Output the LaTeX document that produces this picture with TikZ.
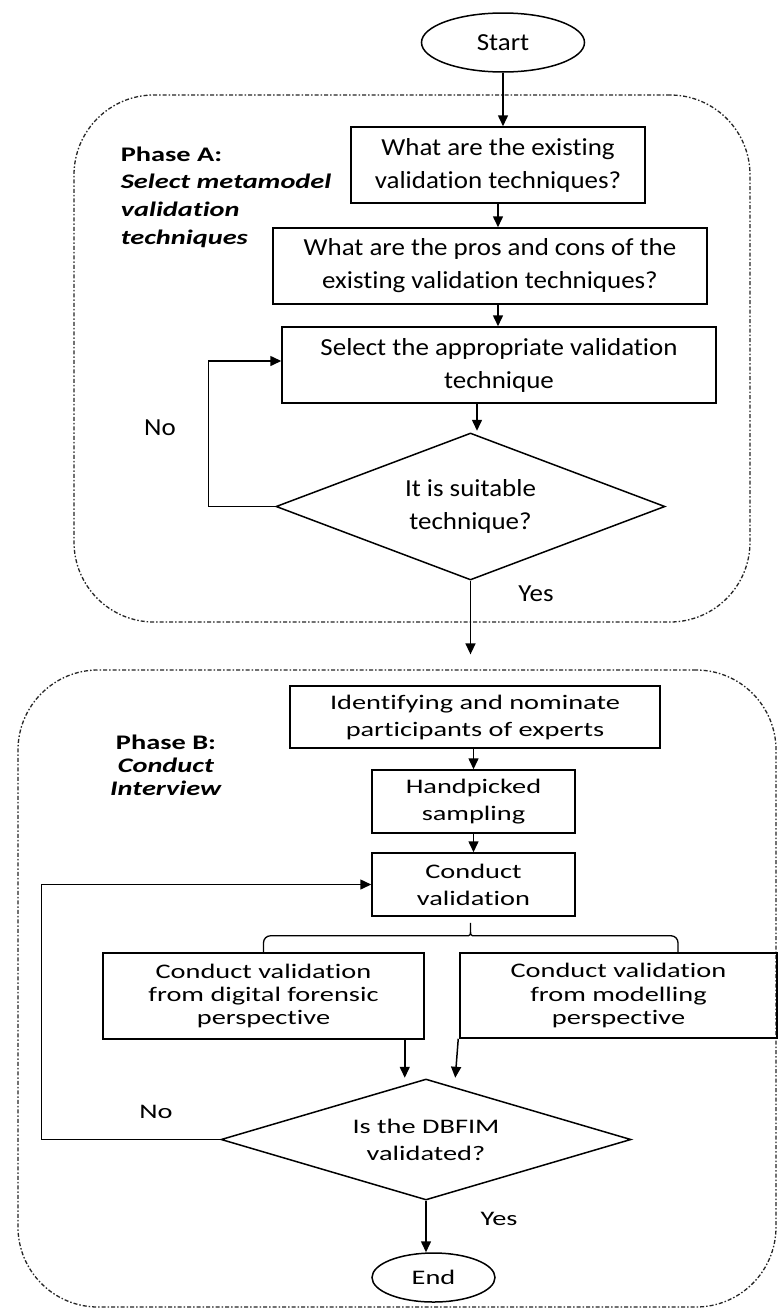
\documentclass[tikz,border=0pt]{standalone}
\usepackage{fontspec}
\setmainfont{Carlito}
\newfontfamily\fupper[FakeStretch=1.1,Ligatures=NoCommon]{Carlito}
\newfontfamily\flower[FakeStretch=1.37,Ligatures=NoCommon]{Carlito}
\usetikzlibrary{shapes.geometric,arrows.meta,calc}
\begin{document}
\begin{tikzpicture}[x=1pt,y=-1pt,
  line width=1.5pt,
  up/.style={font=\fupper\fontsize{24.5}{33}\selectfont},
  low/.style={font=\flower\fontsize{20.7}{23.3}\selectfont},
  lowb/.style={font=\flower\fontsize{20.7}{27}\selectfont},
  box/.style={draw, rectangle, align=center, inner sep=0pt},
  dia/.style={draw, diamond, aspect=2.6, align=center, inner sep=0pt},
  term/.style={draw, ellipse, inner sep=0pt},
  phase/.style={draw=black!85, line width=1.3pt, dash pattern=on 4pt off 2pt on 1.5pt off 2pt, rounded corners=80pt, rectangle, inner sep=0pt},
  arr/.style={-{Triangle[length=11pt,width=10pt]}},
  lbl/.style={inner sep=0pt}
]
\useasboundingbox (0,0) rectangle (777,1309);
\fill[white] (0,0) rectangle (777,1309);

% phase regions
\node[phase, minimum width=676pt, minimum height=527pt] (phA) at (412,358.5) {};
\node[phase, minimum width=758pt, minimum height=637pt] (phB) at (397,988.5) {};

% phase labels
\node[lbl, anchor=north west, align=left, font=\flower\fontsize{20.7}{27.7}\selectfont] (labA) at (120,146)
  {\textbf{Phase A:}\\\textbf{\textit{Select metamodel}}\\\textbf{\textit{validation}}\\\textbf{\textit{techniques}}};
\node[lbl, low, anchor=north, align=center] (labB) at (166,734)
  {\textbf{Phase B:}\\\textbf{\textit{Conduct}}\\\textbf{\textit{Interview}}};

% nodes
\node[term, up, minimum width=163pt, minimum height=59pt] (start) at (503,42.5) {Start};
\node[box, up, minimum width=294pt, minimum height=76pt] (b1) at (498,165) {What are the existing\\validation techniques?};
\node[box, up, minimum width=434pt, minimum height=76pt] (b2) at (490,266) {What are the pros and cons of the\\existing validation techniques?};
\node[box, up, minimum width=434pt, minimum height=76pt] (b3) at (499,365) {Select the appropriate validation\\technique};
\node[dia, up, minimum width=389pt, minimum height=147pt] (d1) at (470.5,506.5) {It is suitable\\technique?};

\node[box, lowb, minimum width=370pt, minimum height=62pt] (b4) at (475,717) {Identifying and nominate\\participants of experts};
\node[box, lowb, minimum width=203pt, minimum height=63pt] (b5) at (473.5,801.5) {Handpicked\\sampling};
\node[box, lowb, minimum width=203pt, minimum height=63pt] (b6) at (473.5,884.5) {Conduct\\validation};
\node[box, low, minimum width=321pt, minimum height=86pt] (b7) at (263.5,996) {Conduct validation\\from digital forensic\\perspective};
\node[box, low, minimum width=317pt, minimum height=85pt] (b8) at (618.5,995.5) {Conduct validation\\from modelling\\perspective};
\node[dia, lowb, minimum width=410pt, minimum height=121pt] (d2) at (426,1139.5) {Is the DBFIM\\validated?};
\node[term, low, minimum width=123pt, minimum height=49pt] (end) at (433.5,1277.5) {End};

% edge labels
\node[lbl, up] (no1) at (160,428) {No};
\node[lbl, up] (yes1) at (536,594) {Yes};
\node[lbl, low] (no2) at (156,1112) {No};
\node[lbl, low] (yes2) at (499,1219) {Yes};

% connectors
\draw[arr] (start.south) -- (start.south |- b1.north);
\draw[arr] (b1.south) -- (b1.south |- b2.north);
\draw[arr] (b1.south |- b2.south) -- (b1.south |- b3.north);
\draw[arr] ($(b3.south)+(-22,0)$) -- ++(0,27);
\draw[arr] (d1.west) -- ++(-67,0) |- ($(b3.west)+(0,-4)$);
\draw[arr, shorten >=15pt] (d1.south) -- (d1.south |- phB.north);

\draw[arr] (b5.north |- b4.south) -- (b5.north);
\draw[arr] (b5.south) -- (b6.north);
\draw[line width=1.3pt, rounded corners=7pt] (b7.north) |- ($(b6.south)+(-12,19)$)
  .. controls ($(b6.south)+(-3,19)$) .. ($(b6.south)+(-3,2)$)
  .. controls ($(b6.south)+(-3,19)$) .. ($(b6.south)+(6,19)$)
  -| ($(b8.north)+(59.5,0)$);
\draw[arr] ($(b7.south east)+(-20,0)$) -- ++(0,38);
\draw[arr] ($(b8.south west)+(-1,0)$) -- ++(-3,39);
\draw[arr] (d2.west) -- ++(-179,0) |- (b6.west);
\draw[arr] (d2.south) -- (d2.south |- end.north);
\end{tikzpicture}
\end{document}
